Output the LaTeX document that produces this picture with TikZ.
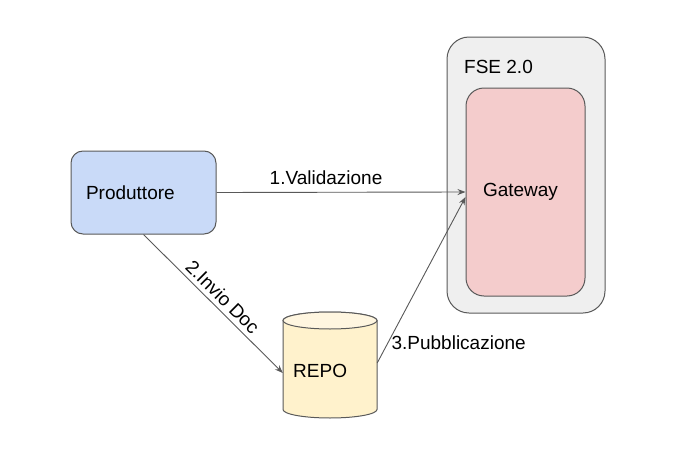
\documentclass[tikz,border=0pt]{standalone}
\usepackage{fontspec}
\setmainfont{Liberation Sans}
\usepackage{xcolor}
\usepackage{tikz}
\usetikzlibrary{arrows.meta}
\definecolor{edge}{HTML}{595959}
\definecolor{prodfill}{HTML}{C9DAF8}
\definecolor{gatefill}{HTML}{F4CCCC}
\definecolor{fsefill}{HTML}{EFEFEF}
\definecolor{repofill}{HTML}{FFF2CC}
\definecolor{repotop}{HTML}{FFF6E0}
\newcommand{\fs}{\fontsize{19}{23}\selectfont}
\tikzset{
  box/.style={draw=edge, line width=1pt, font=\fs, align=left},
  flow/.style={draw=edge, line width=0.9pt, -{Stealth[length=8pt,width=6pt]}},
  lab/.style={text=black, font=\fs},
}

\begin{document}
\begin{tikzpicture}[x=1pt,y=-1pt]
  \useasboundingbox (0,0) rectangle (673,466);

  \node[box, fill=fsefill, rounded corners=22pt, minimum width=158pt, minimum height=276pt] (fse) at (526,175) {};
  \node[lab, anchor=west, inner sep=0pt] (fsename) at (464,67) {FSE 2.0};
  \node[box, fill=gatefill, rounded corners=18pt, text width=85pt, inner xsep=17pt, minimum height=208pt] (gate) at (525.5,192) {Gateway};
  \node[box, fill=prodfill, rounded corners=12pt, text width=115pt, inner xsep=15pt, minimum height=83pt] (prod) at (143.5,192.5) {Produttore};

  \node[minimum width=94pt, minimum height=106pt, inner sep=0pt] (repo) at (330,365) {};
  \draw[draw=edge, line width=1pt, fill=repofill] (283,320.5) -- (283,409.5)
    arc[start angle=180, end angle=0, x radius=47, y radius=8.5] -- (377,320.5)
    arc[start angle=0, end angle=-180, x radius=47, y radius=8.5] -- cycle;
  \draw[draw=edge, line width=1pt, fill=repotop] (330,320.5) ellipse[x radius=47, y radius=8.5];
  \node[lab, anchor=west, inner sep=0pt] (reponame) at (293,371) {REPO};

  \draw[flow] (prod.east) -- node[lab, above=4pt, pos=0.44] {1.Validazione} (gate.west);
  \draw[flow] (prod.south) -- node[lab, sloped, above=1pt, pos=0.51] {2.Invio Doc} ([yshift=-8pt]repo.west);
  \draw[flow] ([yshift=2pt]repo.east) -- node[lab, right, pos=0.12] {3.Pubblicazione} ([yshift=-5pt]gate.west);
\end{tikzpicture}
\end{document}
